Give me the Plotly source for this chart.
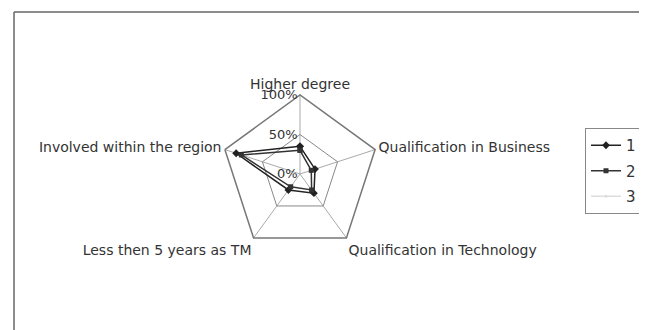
import plotly.graph_objects as go

categories = ["Higher degree", "Qualification in Business", "Qualification in Technology",
              "Less then 5 years as TM", "Involved within the region"]
series_1 = [35, 20, 30, 25, 85]
series_2 = [30, 15, 25, 20, 78]
series_3 = [0, 0, 0, 0, 0]
series_names = ["1", "2", "3"]
r_ticks = [0, 50, 100]
r_tick_labels = ["0%", "50%", "100%"]

W, H = 647, 330
off = 8  # page body margin
cx, cy, D = 300 - off, 174 - off, 158   # polar centre / domain size in px

fig = go.Figure()
styles = [("#222222", "diamond", 6), ("#333333", "square", 5), ("#dddddd", "circle", 3)]
for vals, name, (col, sym, ms) in zip([series_1, series_2, series_3], series_names, styles):
    fig.add_trace(go.Scatterpolar(
        r=vals + vals[:1], theta=categories + categories[:1],
        mode="lines+markers", name=name, legendgroup=name,
        line=dict(color=col, width=1.5),
        marker=dict(symbol=sym, size=ms, color=col),
    ))

fig.update_layout(
    width=W, height=H,
    margin=dict(l=0, r=0, t=0, b=0),
    paper_bgcolor="white",
    font=dict(family="DejaVu Sans, Arial", size=14, color="#333333"),
    polar=dict(
        domain=dict(x=[(cx - D / 2) / W, (cx + D / 2) / W],
                    y=[1 - (cy + D / 2) / H, 1 - (cy - D / 2) / H]),
        bgcolor="white",
        gridshape="linear",
        angularaxis=dict(direction="clockwise", rotation=90, showline=True,
                         linecolor="#777777", linewidth=1.5, gridcolor="#aaaaaa",
                         ticks="", tickfont=dict(size=14, color="#333333")),
        radialaxis=dict(range=[0, 100], tickmode="array", tickvals=r_ticks, ticktext=r_tick_labels,
                        angle=90, tickangle=90, side="counterclockwise",
                        showline=False, gridcolor="#888888",
                        ticks="", tickfont=dict(size=13, color="#333333")),
    ),
    legend=dict(x=(585 - off) / W, y=1 - (128 - off) / H, xanchor="left", yanchor="top",
                bordercolor="#888888", borderwidth=1, bgcolor="white",
                font=dict(size=15), tracegroupgap=3),
    shapes=[
        dict(type="line", xref="paper", yref="paper", x0=(14 - off) / W, x1=1,
             y0=1 - (12 - off) / H, y1=1 - (12 - off) / H,
             line=dict(color="#666666", width=1.5)),
        dict(type="line", xref="paper", yref="paper", x0=(14 - off) / W, x1=(14 - off) / W,
             y0=0, y1=1 - (12 - off) / H,
             line=dict(color="#666666", width=1.5)),
    ],
)

fig.write_html("out.html")
